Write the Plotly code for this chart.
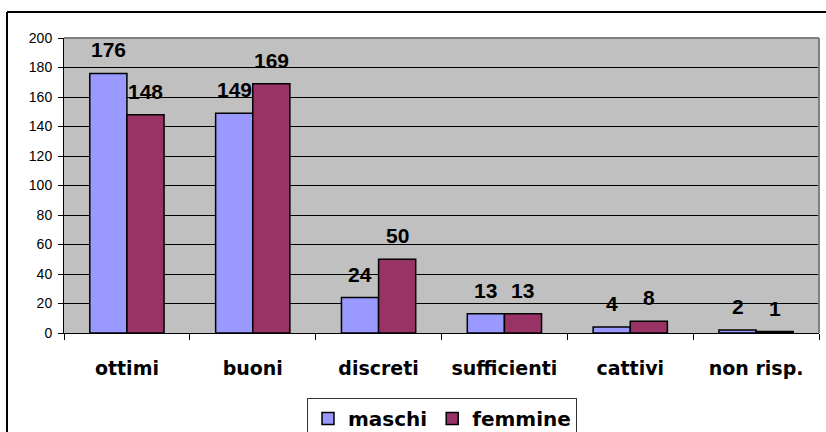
import plotly.graph_objects as go

categories = ["ottimi", "buoni", "discreti", "sufficienti", "cattivi", "non risp."]
maschi = [176, 149, 24, 13, 4, 2]
femmine = [148, 169, 50, 13, 8, 1]
y_ticks = [0, 20, 40, 60, 80, 100, 120, 140, 160, 180, 200]

W, H = 826, 432
L, R, T, B = 64, 7, 38, 99
pw, ph = W - L - R, H - T - B

BAR_W_PX = 37

fig = go.Figure()
fig.add_trace(go.Bar(
    x=categories, y=maschi, name="maschi",
    marker=dict(color="#9999FF", line=dict(color="black", width=1.5)),
))
fig.add_trace(go.Bar(
    x=categories, y=femmine, name="femmine",
    marker=dict(color="#993366", line=dict(color="black", width=1.5)),
))

label_font = dict(family="Liberation Sans, Arial", size=21, color="black", weight="bold")
annotations = []
for series, shift in ((maschi, -BAR_W_PX / 2), (femmine, BAR_W_PX / 2)):
    for c, v in zip(categories, series):
        annotations.append(dict(
            x=c, y=v, xref="x", yref="y", text=str(v), showarrow=False,
            xshift=shift, yshift=10, yanchor="bottom", xanchor="center",
            font=label_font,
        ))

def px_x(x):
    return (x - L) / pw

def px_y(y):
    return (H - B - y) / ph

fig.update_layout(
    width=W, height=H,
    margin=dict(l=L, r=R, t=T, b=B, autoexpand=False),
    paper_bgcolor="white",
    plot_bgcolor="#C0C0C0",
    barmode="group",
    bargap=0.41,
    bargroupgap=0,
    font=dict(family="Liberation Sans, Arial", color="black"),
    showlegend=True,
    legend=dict(
        orientation="h",
        xref="container", x=442 / W, xanchor="center",
        yref="container", y=1 - 398 / H, yanchor="top",
        bordercolor="#333333", borderwidth=1, bgcolor="white",
        font=dict(family="DejaVu Sans", size=20, color="black", weight="bold"),
        itemwidth=30, tracegroupgap=0,
    ),
    xaxis=dict(
        automargin=False,
        showline=True, linecolor="black", linewidth=1,
        ticks="outside", ticklen=6, tickcolor="black",
        tickson="boundaries",
        tickfont=dict(family="DejaVu Sans", size=19, color="black", weight="bold"),
        ticklabelstandoff=18,
        showgrid=False,
    ),
    yaxis=dict(
        automargin=False,
        range=[0, 200], tickvals=y_ticks,
        showline=True, linecolor="black", linewidth=1,
        ticks="outside", ticklen=5, tickcolor="black",
        tickfont=dict(family="Liberation Sans, Arial", size=14, color="black"),
        ticklabelstandoff=3,
        showgrid=True, gridcolor="black", gridwidth=1,
        zeroline=False,
    ),
    annotations=annotations,
    shapes=[
        dict(type="line", xref="paper", yref="paper", x0=px_x(7), x1=px_x(830), y0=px_y(12), y1=px_y(12),
             line=dict(color="black", width=2)),
        dict(type="line", xref="paper", yref="paper", x0=px_x(7), x1=px_x(7), y0=px_y(12), y1=px_y(440),
             line=dict(color="black", width=2)),
        dict(type="line", xref="paper", yref="paper", x0=1, x1=1, y0=0, y1=1,
             line=dict(color="#808080", width=2)),
        dict(type="line", xref="paper", yref="paper", x0=0, x1=1, y0=1, y1=1,
             line=dict(color="#808080", width=2)),
    ],
)

fig.write_html(
    "out.html",
    config={"displayModeBar": False},
    post_script="document.body.style.margin='0';document.body.style.overflow='hidden';",
)
